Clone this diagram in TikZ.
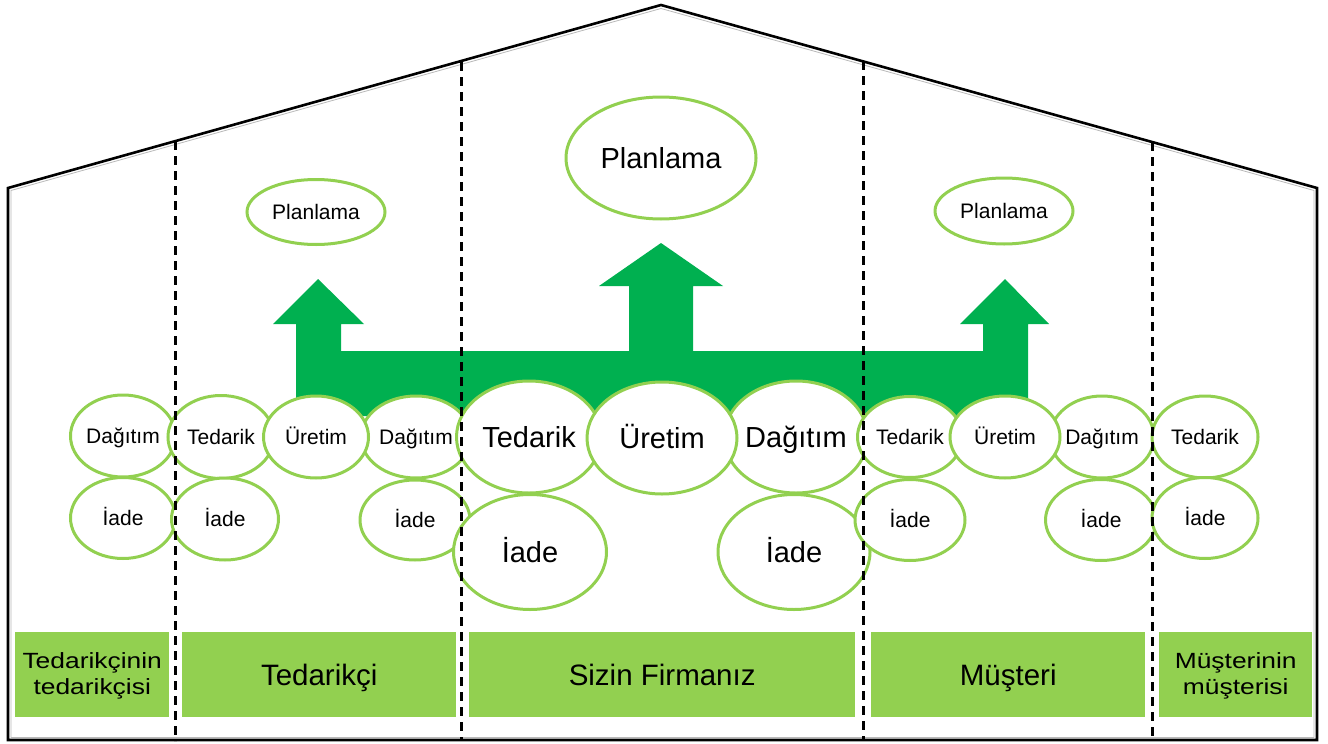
\documentclass[tikz,border=0pt]{standalone}
\usepackage{fontspec}
\setmainfont{Liberation Sans}
\newfontfamily\widefont[FakeStretch=1.2]{Liberation Sans}
\usetikzlibrary{shapes.geometric}
\definecolor{lgreen}{RGB}{146,208,80}
\definecolor{dgreen}{RGB}{0,176,80}
\tikzset{
  ell/.style={ellipse, draw=lgreen, line width=3pt, fill=white, inner sep=0pt},
  sm/.style={ell, font=\fontsize{21}{25}\selectfont, text height=15pt, text depth=0pt},
  bg/.style={ell, font=\fontsize{29}{34}\selectfont, text height=20.8pt, text depth=0pt},
  divider/.style={black, line width=3pt, dash pattern=on 9pt off 6pt},
  house/.style={black, line width=2.6pt, line join=miter},
  lane/.style={fill=lgreen, draw=none, inner sep=0pt, anchor=north west},
  lanetext/.style={font=\fontsize{29.5}{34}\selectfont, text height=21.1pt, text depth=0pt, inner sep=0pt},
  lanetwo/.style={font=\widefont\fontsize{22}{26}\selectfont, align=center, inner sep=0pt}
}
\begin{document}
\begin{tikzpicture}[x=1pt,y=-1pt]
\useasboundingbox (0,0) rectangle (1328,744);
% house outline
\draw[house] (8,740) -- (8,188) -- (661,5) -- (1317,188) -- (1317,740) -- cycle;
\draw[gray!55, line width=0.8pt] (11,737.5) -- (11,190.5) -- (661,8.5) -- (1314,190.5) -- (1314,737.5) -- cycle;
% green arrow
\fill[dgreen] (296,416) -- (296,324) -- (273,324) -- (318,279) -- (364,324) -- (341,324) -- (341,351)
  -- (629,351) -- (629,286) -- (599,286) -- (661,243) -- (723,286) -- (693,286) -- (693,351)
  -- (983,351) -- (983,324) -- (960,324) -- (1005,279) -- (1049,324) -- (1028,324) -- (1028,416) -- cycle;
% planning ellipses
\node[sm, minimum width=138pt, minimum height=65pt] (p1) at (316,212) {Planlama};
\node[bg, minimum width=190pt, minimum height=122pt] (p2) at (661,158) {Planlama};
\node[sm, minimum width=138pt, minimum height=66pt] (p3) at (1004,211) {Planlama};
% column 1
\node[sm, minimum width=105pt, minimum height=82pt] (d1) at (123,436) {Dağıtım};
\node[sm, minimum width=105pt, minimum height=81pt] (i1) at (123,518) {İade};
% column 2
\node[sm, minimum width=106pt, minimum height=83pt] (t2) at (221,437) {Tedarik};
\node[sm, minimum width=107pt, minimum height=82pt] (i2a) at (225,519) {İade};
\node[sm, minimum width=110pt, minimum height=82pt] (d2) at (416,437) {Dağıtım};
\node[sm, minimum width=105pt, minimum height=82pt] (u2) at (316,437) {Üretim};
\node[sm, minimum width=110pt, minimum height=80pt] (i2b) at (415,520) {İade};
% center column
\node[bg, minimum width=145pt, minimum height=112pt] (t3) at (529,437) {Tedarik};
\node[bg, minimum width=140pt, minimum height=112pt] (d3) at (796,437) {Dağıtım};
\node[bg, minimum width=150pt, minimum height=112pt] (u3) at (662,438) {Üretim};
\node[bg, minimum width=153pt, minimum height=115pt] (i3a) at (530,552) {İade};
\node[bg, minimum width=152pt, minimum height=115pt] (i3b) at (794,552) {İade};
% column 4
\node[sm, minimum width=105pt, minimum height=81pt] (t4) at (910,437) {Tedarik};
\node[sm, minimum width=110pt, minimum height=81pt] (i4a) at (910,520) {İade};
\node[sm, minimum width=101pt, minimum height=82pt] (d4) at (1102,437) {Dağıtım};
\node[sm, minimum width=110pt, minimum height=82pt] (u4) at (1005,437) {Üretim};
\node[sm, minimum width=111pt, minimum height=81pt] (i4b) at (1101,520) {İade};
% column 5
\node[sm, minimum width=106pt, minimum height=82pt] (t5) at (1205,437) {Tedarik};
\node[sm, minimum width=106pt, minimum height=81pt] (i5) at (1205,518) {İade};
% lanes
\node[lane, minimum width=154pt, minimum height=85pt] (l1) at (15,632) {};
\node[lanetwo] (l1t) at ([yshift=-1pt]l1.center) {Tedarikçinin\\tedarikçisi};
\node[lane, minimum width=274pt, minimum height=85pt] (l2) at (182,632) {};
\node[lanetext] (l2t) at (l2.center) {Tedarikçi};
\node[lane, minimum width=386pt, minimum height=85pt] (l3) at (469,632) {};
\node[lanetext] (l3t) at (l3.center) {Sizin Firmanız};
\node[lane, minimum width=274pt, minimum height=85pt] (l4) at (871,632) {};
\node[lanetext] (l4t) at (l4.center) {Müşteri};
\node[lane, minimum width=153pt, minimum height=85pt] (l5) at (1159,632) {};
\node[lanetwo] (l5t) at ([yshift=-1pt]l5.center) {Müşterinin\\müşterisi};
% dividers
\draw[divider] (175,141) -- (175,741);
\draw[divider] (461,62) -- (461,741);
\draw[divider] (863,61) -- (863,741);
\draw[divider] (1152,142) -- (1152,741);
\end{tikzpicture}
\end{document}
